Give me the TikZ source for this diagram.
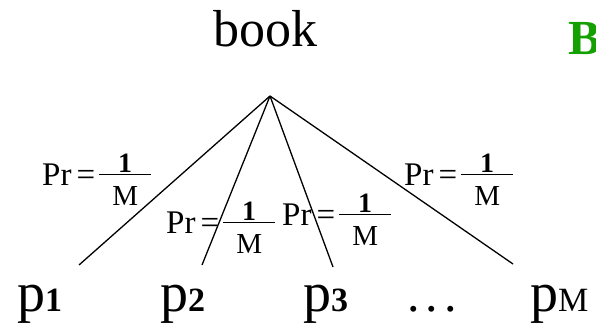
\documentclass[tikz,border=0pt]{standalone}
\usepackage{fontspec}
\setmainfont{Liberation Serif}
\usepackage{xcolor}
\usepackage{tikz}
\definecolor{markgreen}{RGB}{20,160,0}

\newcommand{\probfrac}{Pr\hspace{5pt}=\hspace{4pt}%
  \rlap{\rule[9.6pt]{52pt}{1.3pt}}%
  \rlap{\makebox[52pt]{\raisebox{13pt}{\fontsize{28}{28}\selectfont\bfseries 1}}}%
  \makebox[52pt]{\raisebox{-20pt}{\fontsize{29}{29}\selectfont M}}}
\newcommand{\pidx}[1]{{\fontsize{34}{34}\selectfont #1}}

\tikzset{
  leaf/.style={anchor=base west, inner sep=0pt, font=\fontsize{56}{60}\selectfont},
  problabel/.style={anchor=base west, inner sep=0pt, font=\fontsize{33}{36}\selectfont},
  branch/.style={line width=1.3pt}
}

\begin{document}
\begin{tikzpicture}[x=1pt, y=-1pt]
                \clip (0,0) rectangle (596,323);
                \useasboundingbox (0,0) rectangle (596,323);

                \node[anchor=base, inner sep=0pt, font=\fontsize{52}{60}\selectfont] (book) at (265.5,47) {book};
                \node[anchor=base west, inner sep=0pt, font=\fontsize{49}{52}\selectfont\bfseries, text=markgreen] (mark) at (568,55) {B};

                \coordinate (apex) at (270,96);
                \coordinate (e1) at (79,265);
                \coordinate (e2) at (202,265);
                \coordinate (e3) at (333,267);
                \coordinate (e4) at (513,264);
                \foreach \e in {e1,e2,e3,e4}
                    \draw[branch] (apex) -- (\e);

                \node[problabel] (pr1) at (42,185) {\probfrac};
                \node[problabel] (pr2) at (166,233) {\probfrac};
                \node[problabel] (pr3) at (282,225) {\probfrac};
                \node[problabel] (pr4) at (404,185) {\probfrac};

                \node[leaf] (p1) at (17,311) {p\pidx{\bfseries 1}};
                \node[leaf] (p2) at (160,311) {p\pidx{\bfseries 2}};
                \node[leaf] (p3) at (303,311) {p\pidx{\bfseries 3}};
                \node[leaf, font=\fontsize{50}{52}\selectfont] (dots) at (407,311) {.\hspace{6pt}.\hspace{6pt}.};
                \node[leaf] (pM) at (530,311) {p\pidx{M}};
\end{tikzpicture}
\end{document}
